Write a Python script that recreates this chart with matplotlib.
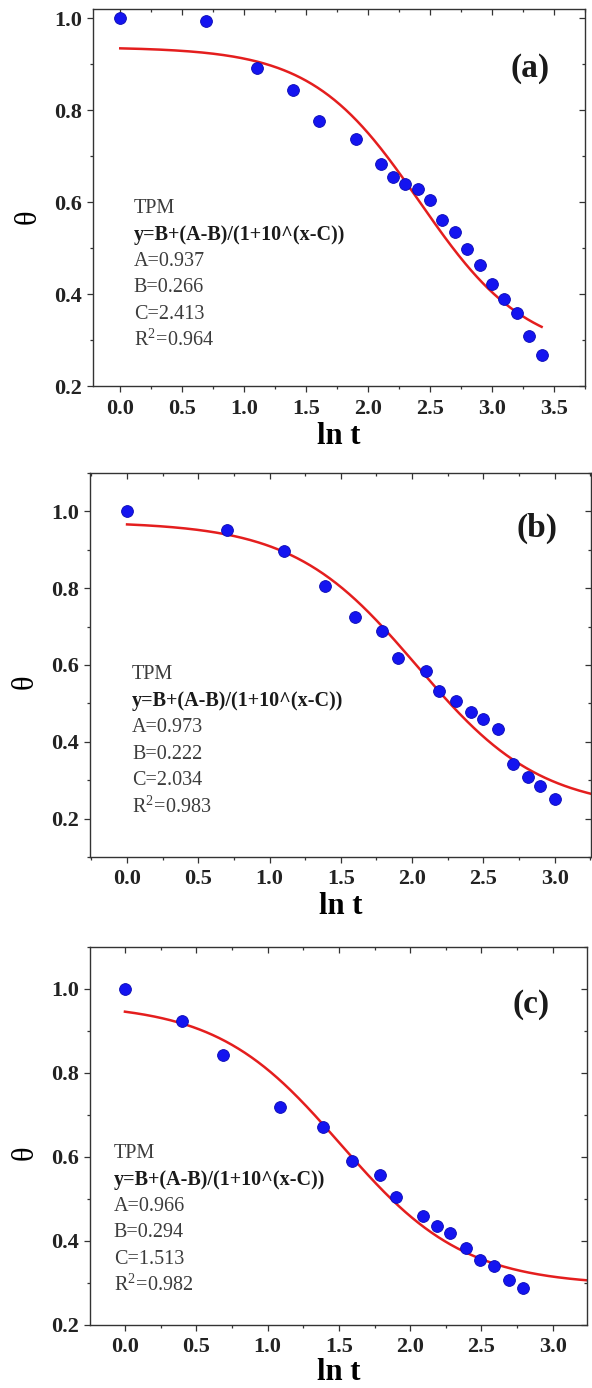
#!/usr/bin/env python3
"""Three-panel TPM fit of theta vs ln t, panels (a), (b), (c)."""

import numpy as np
import matplotlib
matplotlib.use('Agg')
import matplotlib.pyplot as plt
from matplotlib.ticker import MultipleLocator, FormatStrFormatter

# ---- data ----
lnt_a = [0.0, 0.69, 1.1, 1.39, 1.6, 1.9, 2.1, 2.2, 2.3, 2.4, 2.5, 2.6, 2.7,
         2.8, 2.9, 3.0, 3.1, 3.2, 3.3, 3.4]
theta_a = [1.0, 0.993, 0.892, 0.843, 0.777, 0.737, 0.682, 0.655, 0.640, 0.629,
           0.604, 0.562, 0.536, 0.497, 0.463, 0.421, 0.390, 0.358, 0.309, 0.267]

lnt_b = [0.0, 0.7, 1.1, 1.39, 1.6, 1.79, 1.9, 2.1, 2.19, 2.31, 2.41, 2.5,
         2.6, 2.71, 2.81, 2.9, 3.0]
theta_b = [1.0, 0.952, 0.897, 0.806, 0.725, 0.688, 0.618, 0.585, 0.533, 0.505,
           0.477, 0.459, 0.433, 0.341, 0.309, 0.285, 0.252]

lnt_c = [0.0, 0.4, 0.69, 1.09, 1.39, 1.59, 1.79, 1.9, 2.09, 2.19, 2.28, 2.39,
         2.49, 2.59, 2.69, 2.79]
theta_c = [1.0, 0.924, 0.844, 0.719, 0.671, 0.591, 0.558, 0.504, 0.459, 0.435,
           0.419, 0.384, 0.354, 0.340, 0.308, 0.288]

# fitted TPM parameters (A, B, C, R^2) as printed on each panel
params_a = (0.937, 0.266, 2.413, 0.964)
params_b = (0.973, 0.222, 2.034, 0.983)
params_c = (0.966, 0.294, 1.513, 0.982)

panel_labels = ['(a)', '(b)', '(c)']


def tpm(x, A, B, C):
    """y = B + (A-B)/(1+10^(x-C)), the fit shown on the chart."""
    return B + (A - B) / (1 + 10 ** (x - C))


plt.rcParams['font.family'] = ['Liberation Serif', 'DejaVu Serif']
plt.rcParams['font.weight'] = 'bold'
plt.rcParams['mathtext.fontset'] = 'stix'

fig = plt.figure(figsize=(5.92, 13.88), dpi=100)
H = 1388.0
W = 592.0

# axes boxes in pixels: left, right, top, bottom
boxes = [(93, 585, 9, 386), (90, 591, 473, 857), (90, 587, 947, 1325)]
xlims = [(-0.22, 3.75), (-0.26, 3.255), (-0.245, 3.24)]
ylims = [(0.2, 1.02), (0.1, 1.1), (0.2, 1.1)]
fit_end = [3.4, 3.4, 3.4]
text_pos = [(0.083, 0.472), (0.084, 0.474), (0.048, 0.455)]
label_pos = [(0.888, 0.841), (0.893, 0.857), (0.887, 0.847)]
ylabel_y = [0.45, 0.457, 0.455]
xlabel_pad = [51, 50, 47]

data = [(lnt_a, theta_a, params_a), (lnt_b, theta_b, params_b),
        (lnt_c, theta_c, params_c)]

spine_col = '#333333'
for i, (xs, ys, (A, B, C, R2)) in enumerate(data):
    l, r, t, b = boxes[i]
    ax = fig.add_axes([l / W, (H - b) / H, (r - l) / W, (b - t) / H])

    xfit = np.linspace(0, fit_end[i], 300)
    ax.plot(xfit, tpm(xfit, A, B, C), color='#e41e1e', lw=1.8, zorder=2)
    ax.plot(xs, ys, 'o', ms=8.5, color='#1414f0', mec='#0a0ab4', mew=0.6,
            zorder=3)

    ax.set_xlim(*xlims[i])
    ax.set_ylim(*ylims[i])
    ax.xaxis.set_major_locator(MultipleLocator(0.5))
    ax.xaxis.set_minor_locator(MultipleLocator(0.25))
    ax.yaxis.set_major_locator(MultipleLocator(0.2))
    ax.yaxis.set_minor_locator(MultipleLocator(0.1))
    ax.xaxis.set_major_formatter(FormatStrFormatter('%.1f'))
    ax.yaxis.set_major_formatter(FormatStrFormatter('%.1f'))

    for s in ax.spines.values():
        s.set_color(spine_col)
        s.set_linewidth(1.0)
    ax.tick_params(which='both', direction='out', top=False, right=False,
                   color=spine_col, width=0.9, labelsize=16,
                   labelcolor='#222222')
    ax.tick_params(which='major', length=4)
    ax.tick_params(which='minor', length=2.5)
    ax.tick_params(axis='x', pad=5)
    ax.tick_params(axis='y', pad=4)

    # mirrored ticks pointing inward on top and right
    secx = ax.secondary_xaxis('top')
    secx.xaxis.set_major_locator(MultipleLocator(0.5))
    secx.xaxis.set_minor_locator(MultipleLocator(0.25))
    secx.tick_params(which='both', direction='in', labeltop=False,
                     color=spine_col, width=0.9)
    secx.tick_params(which='major', length=4)
    secx.tick_params(which='minor', length=2.5)
    secx.spines['top'].set_visible(False)
    secy = ax.secondary_yaxis('right')
    secy.yaxis.set_major_locator(MultipleLocator(0.2))
    secy.yaxis.set_minor_locator(MultipleLocator(0.1))
    secy.tick_params(which='both', direction='in', labelright=False,
                     color=spine_col, width=0.9)
    secy.tick_params(which='major', length=4)
    secy.tick_params(which='minor', length=2.5)
    secy.spines['right'].set_visible(False)

    ax.set_xlabel('ln t', fontsize=22, fontweight='bold')
    ax.xaxis.set_label_coords(0.5, -xlabel_pad[i] / (b - t), ax.transAxes)
    ax.xaxis.label.set_va('center')
    ax.set_ylabel('θ', fontsize=22)
    ax.yaxis.set_label_coords(-65 / (r - l), ylabel_y[i])
    ax.yaxis.label.set_va('center')

    tx, ty = text_pos[i]
    dy = 26.5 / (b - t)
    lines = ['TPM', 'y=B+(A-B)/(1+10^(x-C))', f'A={A:.3f}', f'B={B:.3f}',
             f'C={C:.3f}', r'R$^\mathregular{2}$' + f'={R2:.3f}']
    for k, txt in enumerate(lines):
        ax.text(tx, ty - k * dy, txt, transform=ax.transAxes, fontsize=14.5,
                fontweight='bold' if k == 1 else 'normal',
                color='#1a1a1a' if k == 1 else '#3c3c3c',
                ha='left', va='center')

    lx, ly = label_pos[i]
    ax.text(lx, ly, panel_labels[i], transform=ax.transAxes, fontsize=24,
            fontweight='bold', ha='center', va='center', color='#1a1a1a')

fig.savefig('out.png', dpi=100)
